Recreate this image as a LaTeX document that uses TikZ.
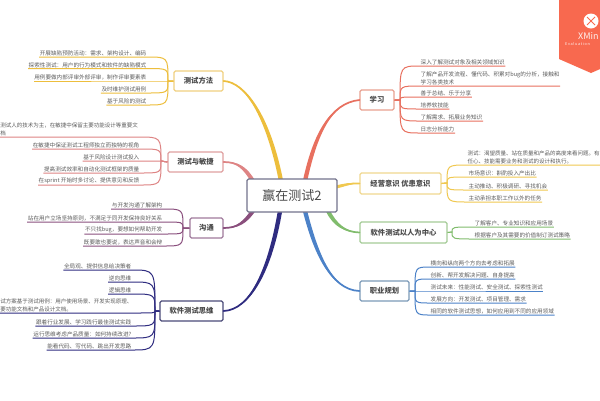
\documentclass[tikz,border=0pt]{standalone}
\usepackage{fontspec}
\usetikzlibrary{calc}
\setmainfont{Noto Sans CJK SC}
\definecolor{cA}{HTML}{EDBE3C}\definecolor{cAb}{HTML}{F0D080}
\definecolor{cB}{HTML}{DE8484}\definecolor{cBb}{HTML}{DFA0A0}
\definecolor{cC}{HTML}{8A4F7D}\definecolor{cCb}{HTML}{A07A9C}
\definecolor{cD}{HTML}{2F2C80}\definecolor{cDb}{HTML}{4A4A78}
\definecolor{cE}{HTML}{E8705F}\definecolor{cEb}{HTML}{E8A090}
\definecolor{cF}{HTML}{F0C850}\definecolor{cFb}{HTML}{F0D890}
\definecolor{cG}{HTML}{80BC6C}\definecolor{cGb}{HTML}{A5CC98}
\definecolor{cH}{HTML}{4C82C8}\definecolor{cHb}{HTML}{7C9AB8}
\definecolor{ink}{HTML}{4A4A4A}
\definecolor{leafink}{HTML}{5C5C5C}
\definecolor{badge}{HTML}{F8694F}
\tikzset{
  box/.style={draw=#1,fill=white,rounded corners=1.5pt,line width=1.1pt,inner sep=0pt,text=ink,font=\fontsize{7.3}{9}\selectfont\bfseries},
  leafR/.style={inner xsep=0.5pt,inner ysep=0.8pt,anchor=south west,align=left,text=leafink,font=\fontsize{5.6}{7.6}\selectfont},
  leafL/.style={inner xsep=0.5pt,inner ysep=0.8pt,anchor=south east,align=right,text=leafink,font=\fontsize{5.6}{7.6}\selectfont},
  leafLL/.style={leafL,align=left},
  narrow/.style={inner xsep=0pt,font=\fontsize{5.5}{7.6}\selectfont},
  trunk/.style={line width=1.7pt,line cap=round},
  twig/.style={line width=1pt}
}
\newcommand\twigL[3]{\draw[twig,#1] (#2.west) -- (j#2) .. controls (j#2 |- #3.south east) .. (#3.south east) -- (#3.south west);}
\newcommand\twigR[3]{\draw[twig,#1] (#2.east) -- (j#2) .. controls (j#2 |- #3.south west) .. (#3.south west) -- (#3.south east);}
% trunk: colour, hub anchor, control 1, control 2, root point, half-width vector at the root
\newcommand\trunk[6]{%
  \draw[trunk,#1] (#2) .. controls #3 and #4 .. (#5);
  \fill[#1] (#2) .. controls ($#3-.5*#6$) and ($#4-#6$) .. ($(#5)-#6$) -- ($(#5)+#6$) .. controls ($#4+#6$) and ($#3+.5*#6$) .. (#2) -- cycle;}
\begin{document}
\begin{tikzpicture}[x=1pt,y=-1pt]
\useasboundingbox (0,0) rectangle (600,400);
\clip (0,0) rectangle (600,400);
\fill[white] (0,0) rectangle (600,400);
% badge
\fill[badge] (559,0) -- (559,59) -- (591,73) -- (623,59) -- (623,0) -- cycle;
\node[circle,fill=white,minimum size=15pt,inner sep=0pt] (logo) at (591,21) {};
\draw[badge,line width=1pt] (587,17) -- (595,25) (595,17) -- (587,25);
\node[anchor=west,inner sep=0pt,text=white!90!badge,font=\fontsize{9}{10}\selectfont] (xm) at (578,36.5) {XMin};
\node[anchor=west,inner sep=0pt,text=white!90!badge,font=\fontsize{3.8}{5}\selectfont] (ev) at (565,44) {E\,v\,a\,l\,u\,a\,t\,i\,o\,n};
% hubs
\coordinate (ra) at (281,181);\coordinate (rb) at (253,181);\coordinate (rc) at (253,211);\coordinate (rd) at (280,211);
\coordinate (re) at (305,181);\coordinate (rf) at (336,187);\coordinate (rg) at (328,211);\coordinate (rh) at (305,211);
\node[box=cAb,minimum width=49pt,minimum height=20pt] (a) at (198.5,81) {测试方法};
\node[box=cBb,minimum width=55pt,minimum height=20pt] (b) at (195.5,162) {测试与敏捷};
\node[box=cCb,minimum width=33pt,minimum height=20pt] (c) at (206.5,228) {沟通};
\node[box=cDb,minimum width=63pt,minimum height=20pt] (d) at (191.5,311) {软件测试思维};
\node[box=cEb,minimum width=34pt,minimum height=20pt] (e) at (377,100) {学习};
\node[box=cFb,minimum width=81pt,minimum height=21pt] (f) at (400.5,183.5) {经营意识 优患意识};
\node[box=cGb,minimum width=87pt,minimum height=21pt] (g) at (403.5,232.5) {软件测试以人为中心};
\node[box=cHb,minimum width=49pt,minimum height=20pt] (h) at (384.5,291) {职业规划};
% trunks
\trunk{cA}{a.east}{(245,82)}{(268,115)}{ra}{(2.2,0)}
\trunk{cB}{b.east}{(238,162)}{(245,168)}{rb}{(1.6,-1.2)}
\trunk{cC}{c.east}{(238,228)}{(245,222)}{rc}{(1.6,1.2)}
\trunk{cD}{d.east}{(250,310)}{(270,270)}{rd}{(2.2,0)}
\trunk{cE}{e.west}{(330,103)}{(315,135)}{re}{(2.2,0)}
\trunk{cF}{f.west}{(350,183)}{(345,185)}{rf}{(0,1.6)}
\trunk{cG}{g.west}{(345,232)}{(335,225)}{rg}{(1.6,-1.2)}
\trunk{cH}{h.west}{(330,290)}{(315,250)}{rh}{(2.2,0)}
\node[draw=gray!90!blue,fill=white,rounded corners=1.5pt,line width=1.2pt,inner sep=0pt,minimum width=90pt,minimum height=33pt,text=ink,font=\fontsize{13}{15}\selectfont] (root) at (292,195.5) {赢在测试2};
% junctions
\coordinate (ja) at (168,81);\coordinate (jb) at (161,161);\coordinate (jc) at (183,228);\coordinate (jd) at (155,311);
\coordinate (je) at (400,100);\coordinate (jf) at (447,183);\coordinate (jg) at (452,232);\coordinate (jh) at (415,291);
% leaves A
\node[leafL] (a1) at (147,57) {开展缺陷预防活动：需求、架构设计、编码};
\node[leafL] (a2) at (147,68.5) {探索性测试：用户的行为模式和软件的缺陷模式};
\node[leafL] (a3) at (147,81) {用例要做内部评审外部评审，制作评审要素表};
\node[leafL] (a4) at (147,93) {及时维护测试用例};
\node[leafL] (a5) at (147,105) {基于风险的测试};
\foreach \n in {a1,a2,a3,a4,a5} {\twigL{cA}{a}{\n}}
% leaves B
\node[leafLL,narrow] (b1) at (138,137) {测试人的技术为主，在敏捷中保留主要功能设计等重要文\\档};
\node[leafL] (b2) at (140,149) {在敏捷中保证测试工程师独立而独特的视角};
\node[leafL] (b3) at (140,161) {基于风险设计测试投入};
\node[leafL] (b4) at (140,173) {提高测试效率和自动化测试框架的质量};
\node[leafL] (b5) at (140,185) {在sprint 开始时多讨论、提供意见和反馈};
\foreach \n in {b1,b2,b3,b4,b5} {\twigL{cB}{b}{\n}}
% leaves C
\node[leafL] (c1) at (163,209) {与开发沟通了解架构};
\node[leafL] (c2) at (163,222) {站在用户立场坚持原则，不满足于同开发保持良好关系};
\node[leafL] (c3) at (163,234) {不只找bug，要想如何帮助开发};
\node[leafL] (c4) at (163,246) {既要敢也要说，表达声音和会辩};
\foreach \n in {c1,c2,c3,c4} {\twigL{cC}{c}{\n}}
% leaves D
\node[leafL] (d1) at (132,270) {全局观、提供信息给决策者};
\node[leafL] (d2) at (132,282) {逆向思维};
\node[leafL] (d3) at (132,294) {逻辑思维};
\node[leafLL,narrow] (d4) at (132.5,313) {试方案基于测试用例：用户使用场景、开发实现原理、\\要功能文档和产品设计文档。};
\node[leafL] (d5) at (132,326) {跟着行业发展、学习践行最佳测试实践};
\node[leafL] (d6) at (132,338) {运行思维考虑产品质量：如何持续改进?};
\node[leafL] (d7) at (132,350) {能看代码、写代码、跳出开发思路};
\foreach \n in {d1,d2,d3,d4,d5,d6,d7} {\twigL{cD}{d}{\n}}
% leaves E
\node[leafR] (e1) at (420,66) {深入了解测试对象及相关领域知识};
\node[leafR] (e2) at (420,86) {了解产品开发流程、懂代码、积累对bug的分析，接触和\\学习各类技术};
\node[leafR] (e3) at (420,97) {善于总结、乐于分享};
\node[leafR] (e4) at (420,109) {培养软技能};
\node[leafR] (e5) at (420,121) {了解需求、拓展业务知识};
\node[leafR] (e6) at (420,133) {日志分析能力};
\foreach \n in {e1,e2,e3,e4,e5,e6} {\twigR{cE}{e}{\n}}
% leaves F
\node[leafR,narrow] (f1) at (467.5,165) {测试：渴望质量、站在质量和产品的高度来看问题。有\\任心、技能需要业务和测试的设计和执行。};
\node[leafR] (f2) at (468,177) {市场意识：斟酌投入产出比};
\node[leafR] (f3) at (468,190) {主动推动、积极调研、寻找机会};
\node[leafR] (f4) at (468,202) {主动承担本职工作以外的任务};
\foreach \n in {f1,f2,f3,f4} {\twigR{cF}{f}{\n}}
% leaves G
\node[leafR] (g1) at (474,227) {了解客户、专业知识和应用场景};
\node[leafR] (g2) at (474,239) {根据客户及其需要的价值制订测试策略};
\foreach \n in {g1,g2} {\twigR{cG}{g}{\n}}
% leaves H
\node[leafR] (h1) at (430,267) {横向和纵向两个方向去考虑和拓展};
\node[leafR] (h2) at (430,279) {创新、帮开发解决问题、自身提高};
\node[leafR] (h3) at (430,291) {测试未来：性能测试、安全测试、探索性测试};
\node[leafR] (h4) at (430,303) {发展方向：开发测试、项目管理、需求};
\node[leafR] (h5) at (430,315) {相同的软件测试思想，如何应用到不同的应用领域};
\foreach \n in {h1,h2,h3,h4,h5} {\twigR{cH}{h}{\n}}
\end{tikzpicture}
\end{document}
